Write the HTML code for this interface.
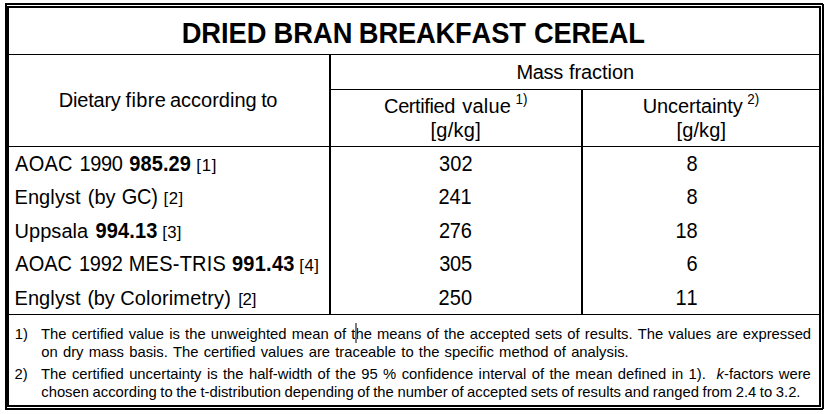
<!DOCTYPE html>
<html><head><meta charset="utf-8"><title>Dried Bran Breakfast Cereal</title>
<style>
html,body{margin:0;padding:0;background:#fff;}
body{width:830px;height:414px;position:relative;overflow:hidden;font-family:"Liberation Sans",Arial,sans-serif;color:#000;font-kerning:none;}
.t{position:absolute;white-space:pre;line-height:20px;}
.r{position:absolute;}
</style></head><body>
<div class="r" style="left:5px;top:3px;width:818px;height:2px;background:#000"></div>
<div class="r" style="left:5px;top:6px;width:816px;height:2px;background:#000"></div>
<div class="r" style="left:5px;top:3px;width:2px;height:407px;background:#000"></div>
<div class="r" style="left:7px;top:6px;width:2px;height:401px;background:#000"></div>
<div class="r" style="left:819px;top:6px;width:2px;height:401px;background:#000"></div>
<div class="r" style="left:822px;top:4px;width:2px;height:405px;background:#000"></div>
<div class="r" style="left:5px;top:405px;width:816px;height:2px;background:#000"></div>
<div class="r" style="left:5px;top:408px;width:818px;height:2px;background:#000"></div>
<div class="r" style="left:9px;top:54px;width:810px;height:1px;background:#000"></div>
<div class="r" style="left:329px;top:55px;width:2px;height:259px;background:#000"></div>
<div class="r" style="left:331px;top:89px;width:488px;height:1px;background:#000"></div>
<div class="r" style="left:581px;top:90px;width:2px;height:224px;background:#000"></div>
<div class="r" style="left:9px;top:146px;width:810px;height:1px;background:#000"></div>
<div class="r" style="left:9px;top:314px;width:810px;height:1px;background:#000"></div>
<div class="t" style="left:181.67px;top:24px;font-size:27.3px;font-weight:700;letter-spacing:-0.042px;transform:scaleY(1.06);transform-origin:0 19px;">DRIED</div>
<div class="t" style="left:273.57px;top:24px;font-size:27.3px;font-weight:700;transform:scaleY(1.06);transform-origin:0 19px;">BRAN</div>
<div class="t" style="left:358.87px;top:24px;font-size:27.3px;font-weight:700;letter-spacing:-0.166px;transform:scaleY(1.06);transform-origin:0 19px;">BREAKFAST</div>
<div class="t" style="left:533.98px;top:24px;font-size:27.3px;font-weight:700;letter-spacing:-0.256px;transform:scaleY(1.06);transform-origin:0 19px;">CEREAL</div>
<div class="t" style="left:516.46px;top:62px;font-size:20px;letter-spacing:-0.340px;">Mass</div>
<div class="t" style="left:568.92px;top:62px;font-size:20px;letter-spacing:-0.043px;">fraction</div>
<div class="t" style="left:58.86px;top:90px;font-size:20px;letter-spacing:-0.228px;">Dietary</div>
<div class="t" style="left:125.52px;top:90px;font-size:20px;letter-spacing:0.341px;">fibre</div>
<div class="t" style="left:169.95px;top:90px;font-size:20px;">according</div>
<div class="t" style="left:261.30px;top:90px;font-size:20px;letter-spacing:-0.537px;">to</div>
<div class="t" style="left:384.08px;top:96px;font-size:20px;letter-spacing:-0.396px;">Certified</div>
<div class="t" style="left:462.13px;top:96px;font-size:20px;letter-spacing:0.261px;">value</div>
<div class="t" style="left:642.66px;top:96px;font-size:20px;letter-spacing:-0.107px;">Uncertainty</div>
<div class="t" style="left:515.52px;top:90px;font-size:13.4px;transform:scaleY(1.1);transform-origin:0 14px;">1)</div>
<div class="t" style="left:747.23px;top:90px;font-size:13.4px;transform:scaleY(1.1);transform-origin:0 14px;">2)</div>
<div class="t" style="left:430.47px;top:120px;font-size:20px;letter-spacing:0.287px;">[g/kg]</div>
<div class="t" style="left:676.57px;top:120px;font-size:20px;letter-spacing:0.107px;">[g/kg]</div>
<div class="t" style="left:15.06px;top:154px;font-size:20px;letter-spacing:0.274px;transform:scaleY(1.08);transform-origin:0 17px;">AOAC</div>
<div class="t" style="left:79.58px;top:154px;font-size:20px;letter-spacing:-0.429px;transform:scaleY(1.08);transform-origin:0 17px;">1990</div>
<div class="t" style="left:129.21px;top:154px;font-size:20px;font-weight:700;letter-spacing:0.113px;transform:scaleY(1.08);transform-origin:0 17px;">985.29</div>
<div class="t" style="left:196.30px;top:156px;font-size:16.8px;letter-spacing:0.708px;">[1]</div>
<div class="t" style="left:14.46px;top:187px;font-size:20px;letter-spacing:0.100px;">Englyst</div>
<div class="t" style="left:87.76px;top:187px;font-size:20px;">(by</div>
<div class="t" style="left:121.69px;top:187px;font-size:20px;letter-spacing:-0.257px;transform:scaleY(1.08);transform-origin:0 17px;">GC)</div>
<div class="t" style="left:163.60px;top:189px;font-size:16.8px;letter-spacing:0.508px;">[2]</div>
<div class="t" style="left:14.56px;top:221px;font-size:20px;letter-spacing:0.044px;">Uppsala</div>
<div class="t" style="left:95.51px;top:221px;font-size:20px;font-weight:700;letter-spacing:0.129px;transform:scaleY(1.08);transform-origin:0 17px;">994.13</div>
<div class="t" style="left:162.30px;top:223px;font-size:16.8px;letter-spacing:0.258px;">[3]</div>
<div class="t" style="left:15.36px;top:254px;font-size:20px;transform:scaleY(1.08);transform-origin:0 17px;">AOAC</div>
<div class="t" style="left:78.88px;top:254px;font-size:20px;letter-spacing:-0.188px;transform:scaleY(1.08);transform-origin:0 17px;">1992</div>
<div class="t" style="left:128.66px;top:254px;font-size:20px;letter-spacing:0.243px;transform:scaleY(1.08);transform-origin:0 17px;">MES-TRIS</div>
<div class="t" style="left:232.01px;top:254px;font-size:20px;font-weight:700;letter-spacing:0.249px;transform:scaleY(1.08);transform-origin:0 17px;">991.43</div>
<div class="t" style="left:299.20px;top:256px;font-size:16.8px;letter-spacing:0.558px;">[4]</div>
<div class="t" style="left:14.46px;top:288px;font-size:20px;letter-spacing:0.100px;">Englyst</div>
<div class="t" style="left:87.46px;top:288px;font-size:20px;letter-spacing:-0.252px;">(by</div>
<div class="t" style="left:120.18px;top:288px;font-size:20px;letter-spacing:0.160px;">Colorimetry)</div>
<div class="t" style="left:238.20px;top:290px;font-size:16.8px;letter-spacing:-0.242px;">[2]</div>
<div class="t" style="left:439.04px;top:154px;font-size:20px;letter-spacing:0.099px;transform:scaleY(1.08);transform-origin:0 17px;">302</div>
<div class="t" style="left:438.39px;top:187px;font-size:20px;transform:scaleY(1.08);transform-origin:0 17px;">241</div>
<div class="t" style="left:438.89px;top:221px;font-size:20px;letter-spacing:-0.192px;transform:scaleY(1.08);transform-origin:0 17px;">276</div>
<div class="t" style="left:439.14px;top:254px;font-size:20px;letter-spacing:-0.184px;transform:scaleY(1.08);transform-origin:0 17px;">305</div>
<div class="t" style="left:438.39px;top:288px;font-size:20px;letter-spacing:0.159px;transform:scaleY(1.08);transform-origin:0 17px;">250</div>
<div class="t" style="left:686.53px;top:154px;font-size:20px;transform:scaleY(1.08);transform-origin:0 17px;">8</div>
<div class="t" style="left:686.53px;top:187px;font-size:20px;transform:scaleY(1.08);transform-origin:0 17px;">8</div>
<div class="t" style="left:675.40px;top:221px;font-size:20px;transform:scaleY(1.08);transform-origin:0 17px;">18</div>
<div class="t" style="left:686.53px;top:254px;font-size:20px;transform:scaleY(1.08);transform-origin:0 17px;">6</div>
<div class="t" style="left:675.40px;top:288px;font-size:20px;transform:scaleY(1.08);transform-origin:0 17px;">11</div>
<div class="t" style="left:14.87px;top:324px;font-size:14.8px;">1)</div>
<div class="t" style="left:14.56px;top:364px;font-size:14.8px;">2)</div>
<div class="t" style="left:41.07px;top:324px;font-size:14.8px;word-spacing:1.047px">The certified value is the unweighted mean of the means of the accepted sets of results. The values are expressed</div>
<div class="t" style="left:41.28px;top:342px;font-size:14.8px;word-spacing:1.073px">on dry mass basis. The certified values are traceable to the specific method of analysis.</div>
<div class="t" style="left:41.07px;top:364px;font-size:14.8px;word-spacing:1.269px">The certified uncertainty is the half-width of the 95 % confidence interval of the mean defined in 1).  <i>k</i>-factors were</div>
<div class="t" style="left:41.27px;top:382px;font-size:14.8px;word-spacing:-0.520px">chosen according to the t-distribution depending of the number of accepted sets of results and ranged from 2.4 to 3.2.</div>
<div class="r" style="left:355px;top:323px;width:2px;height:19.5px;background:#7c7c7c"></div>
</body></html>
